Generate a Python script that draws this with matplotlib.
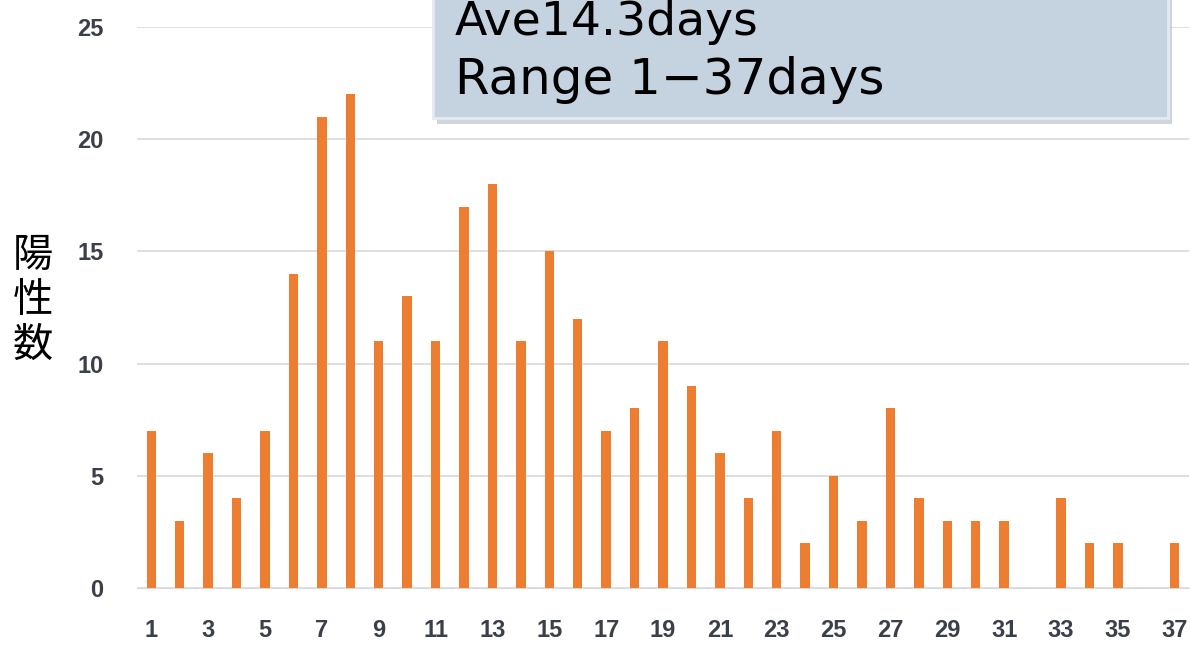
import matplotlib
matplotlib.use("Agg")
import matplotlib.pyplot as plt
from matplotlib.patches import Rectangle

days = list(range(1, 38))
counts = [7, 3, 6, 4, 7, 14, 21, 22, 11, 13, 11, 17, 18, 11, 15, 12, 7, 8, 11, 9,
          6, 4, 7, 2, 5, 3, 8, 4, 3, 3, 3, 0, 4, 2, 2, 0, 2]
xtick_labels = [str(d) for d in range(1, 38, 2)]
yticks = [0, 5, 10, 15, 20, 25]
ylabel = "陽\n性\n数"
note_lines = ["Ave14.3days", "Range 1\u221237days"]

W, H = 1191, 648
fig = plt.figure(figsize=(W / 100, H / 100), dpi=100)
ax = fig.add_axes([137 / W, (H - 588) / H, (1189 - 137) / W, (588 - 27) / H])

ax.bar(days, counts, width=0.33, color="#ed7d31", zorder=3)
ax.set_xlim(0.5, 37.5)
ax.set_ylim(0, 25)
ax.set_yticks(yticks)
ax.set_xticks(range(1, 38, 2))
ax.set_xticklabels(xtick_labels)
ax.yaxis.grid(True, color="#d9d9d9", linewidth=1.2, zorder=0)
for s in ax.spines.values():
    s.set_visible(False)
ax.spines["bottom"].set_visible(True)
ax.spines["bottom"].set_color("#d9d9d9")
ax.tick_params(length=0, colors="#3b3f4a")
ax.tick_params(axis="x", pad=22)
ax.tick_params(axis="y", pad=24)
for lab in ax.get_xticklabels() + ax.get_yticklabels():
    lab.set_fontweight("bold")
    lab.set_family(["Liberation Sans", "DejaVu Sans"])
    lab.set_fontsize(17)

fig.text(33 / W, 1 - 300 / H, ylabel, ha="center", va="center",
         fontsize=29, family=["Noto Sans CJK JP", "DejaVu Sans"],
         linespacing=1.12, color="black")

# Summary box with a soft drop shadow
shadow = Rectangle((437 / W, 1 - 124 / H), (1168 - 433) / W, 130 / H,
                   transform=fig.transFigure, facecolor="#9aa3ad", alpha=0.45,
                   edgecolor="none", zorder=4)
box = Rectangle((433 / W, 1 - 118 / H), (1168 - 433) / W, 130 / H,
                transform=fig.transFigure, facecolor="#c5d2e0",
                edgecolor="#e3eaf2", linewidth=2, zorder=5)
fig.add_artist(shadow)
fig.add_artist(box)
fig.text(455 / W, 1 - 35 / H, note_lines[0], ha="left", va="baseline",
         fontsize=34, color="black", zorder=6)
fig.text(455 / W, 1 - 94 / H, note_lines[1], ha="left", va="baseline",
         fontsize=36, color="black", zorder=6)

fig.savefig("out.png", dpi=100, facecolor="white")
